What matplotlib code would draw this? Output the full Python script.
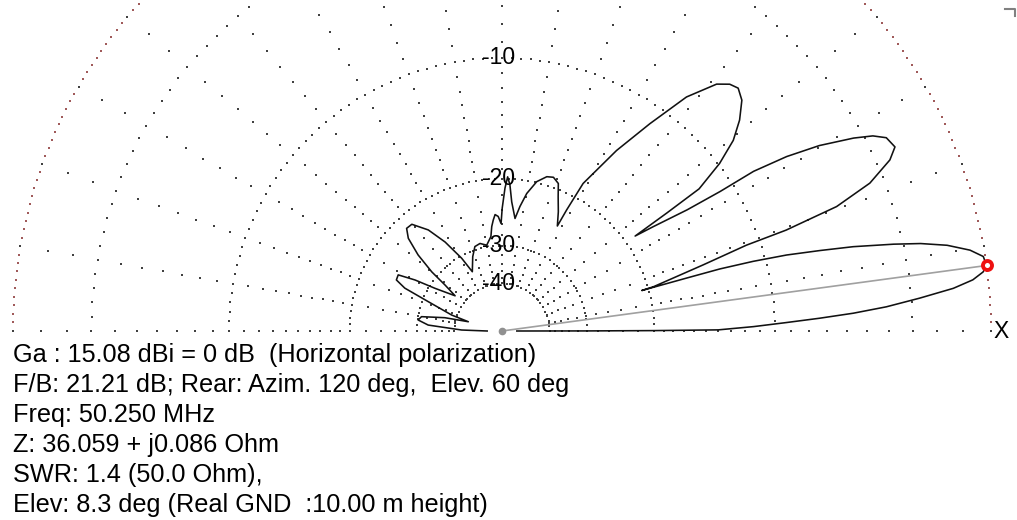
import numpy as np
import matplotlib.pyplot as plt
from matplotlib.lines import Line2D

plt.rcParams['font.family'] = ['Liberation Sans', 'DejaVu Sans']

# elevation pattern: elevation angle (deg), gain rel. max (dB)
elev = [0.0, 0.05, 0.15, 0.3, 1.0, 1.7, 2.3, 2.9, 3.6, 4.5, 5.4, 6.2, 7.0, 7.7,
        8.8, 9.8, 10.9, 11.8, 12.5, 13.5, 14.2, 14.95, 15.5, 15.9, 16.0, 16.15,
        16.3, 18.2, 19.35, 19.55, 20.4, 21.9, 23.8, 25.1, 26.7, 27.75, 28.75,
        30.3, 31.5, 32.4, 32.6, 33.2, 34.6, 35.5,
        35.6, 35.8, 37.6, 39.5, 41.6, 43.9, 45.8, 47.3, 49.0, 51.75, 54.5, 57.6,
        61.2, 61.9, 62.2,
        64.7, 67.3, 69.1, 71.5, 73.8, 76.9, 79.8, 81.8, 83.4,
        85.7, 86.9, 87.9, 88.8, 89.9, 90.5, 91.9, 93.4, 94.5, 95.6, 96.7, 100.1,
        104.1, 107.8, 111.5, 116.6,
        119.0, 122.6, 126.1, 130.2, 132.9, 135.3, 137.8, 139.9, 141.1, 143.1,
        147.5, 149.6, 151.6, 154.2, 156.2, 158.3, 162.4, 164.6,
        166.9, 169.9, 172.5, 175.4, 178.6, 180.0]
gain = [-60, -30, -20, -14, -11.4, -9.3, -7.4, -5.65, -4.1, -2.65, -1.3, -0.55, -0.15, 0.0,
        -0.07, -0.5, -1.3, -2.3, -3.4, -5.2, -6.85, -8.7, -10.8, -13.2, -16.0, -20.8,
        -19.4, -14.35, -10.9, -8.3, -5.4, -3.6, -2.45, -2.05, -2.2, -2.65, -3.4,
        -4.9, -6.55, -8.5, -10.9, -13.6, -16.8, -18.8,
        -15.1, -12.0, -9.9, -8.4, -7.4, -6.6, -6.3, -6.45, -6.9, -8.5, -11.2, -14.2,
        -18.3, -21.8, -24.3,
        -22.5, -20.8, -19.4, -18.95, -19.1, -19.9, -21.5, -23.3, -25.1,
        -22.8, -20.7, -19.8, -21.1, -23.7, -26.0, -24.9, -24.6, -25.4, -26.4, -28.1, -29.6,
        -29.0, -29.3, -31.1, -34.3,
        -30.4, -26.3, -23.4, -21.5, -21.45, -22.5, -25.1, -28.7, -32.6, -36.4,
        -31.2, -27.1, -24.4, -24.5, -26.2, -31.2, -38.2, -45.3,
        -36.4, -30.7, -30.1, -32.4, -42.8, -60]

peak_elev = 7.7

ring_db = [0, -3, -10, -20, -30, -40]
ring_step = [1, 2, 2, 2.5, 4, 6]          # degrees between grid dots
label_db = [-10, -20, -30, -40]
radial_angles = np.arange(0, 181, 10)
radial_db = list(range(0, -21, -1)) + list(range(-22, -41, -2))

info_lines = [
    "Ga : 15.08 dBi = 0 dB  (Horizontal polarization)",
    "F/B: 21.21 dB; Rear: Azim. 120 deg,  Elev. 60 deg",
    "Freq: 50.250 MHz",
    "Z: 36.059 + j0.086 Ohm",
    "SWR: 1.4 (50.0 Ohm),",
    "Elev: 8.3 deg (Real GND  :10.00 m height)",
]


def to_r(db):
    # ARRL log scale: 0.89 per 2 dB
    return 0.89 ** (-np.asarray(db, dtype=float) / 2.0)


W, H = 1017, 520
cx, cy, R = 502, 331, 489

fig = plt.figure(figsize=(W / 100, H / 100), dpi=100)
ax = fig.add_axes([0, 0, 1, 1])
ax.set_xlim(-cx / R, (W - cx) / R)
ax.set_ylim(-(H - cy) / R, cy / R)
ax.axis('off')

grid_col = '#404040'
# rings
for db, step in zip(ring_db, ring_step):
    a = np.radians(np.arange(0, 180 + 1e-6, step))
    r = to_r(db)
    col = '#a05a5a' if db == 0 else grid_col
    ax.scatter(r * np.cos(a), r * np.sin(a), s=1.1, marker='s', color=col, lw=0)

# radials, one dot per dB outside -20
rr = to_r(radial_db)
for ang in radial_angles:
    t = np.radians(ang)
    ax.scatter(rr * np.cos(t), rr * np.sin(t), s=1.1, marker='s', color=grid_col, lw=0)

for db in label_db:
    ax.text(-0.008, to_r(db), str(db), ha='center', va='center', fontsize=16.5)

ax.text((1001 - cx) / R, 0, "X", ha='center', va='center', fontsize=16.5)

# pattern
th = np.radians(elev)
r = to_r(gain)
ax.plot(r * np.cos(th), r * np.sin(th), color='#111111', lw=1.15)

# max direction
tp = np.radians(peak_elev)
ax.plot([0, np.cos(tp)], [0, np.sin(tp)], color='#a0a0a0', lw=1.2)
ax.plot([0], [0], 'o', ms=4.5, color='#909090')
ax.plot([np.cos(tp)], [np.sin(tp)], 'o', ms=6.5, mfc='white', mec='#ee1111', mew=2.8)

for i, line in enumerate(info_lines):
    fig.text(13 / W, 1 - (362 + 30 * i) / H, line, fontsize=18.2, va='baseline')

fig.add_artist(Line2D([1005 / W, 1015 / W, 1015 / W], [1 - 9 / H, 1 - 9 / H, 1 - 16 / H],
                      color='#808080', lw=1.5))

fig.savefig('out.png', dpi=100)
